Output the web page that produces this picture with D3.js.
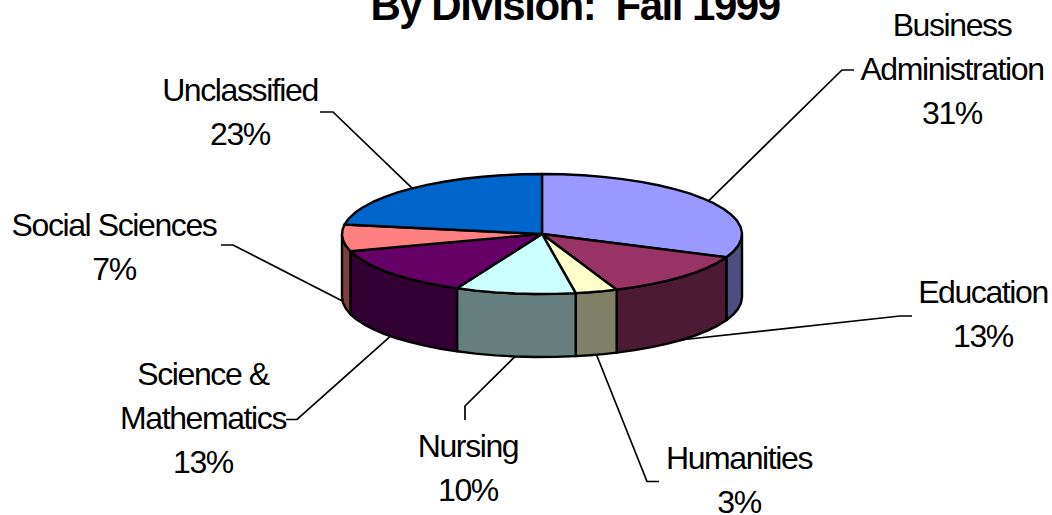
<!DOCTYPE html>
<html>
<head>
<meta charset="utf-8">
<script src="https://cdn.jsdelivr.net/npm/d3@7"></script>
<style>
  html, body { margin: 0; padding: 0; background: #fff; overflow: hidden; }
  text { font-family: "Liberation Sans", Arial, sans-serif; fill: #000; white-space: pre; }
</style>
</head>
<body>
<div id="chart"></div>
<script>
let w = 1052,
    h = 515;

// data
let divisions = ["Business Administration", "Education", "Humanities", "Nursing", "Science & Mathematics", "Social Sciences", "Unclassified"];
let shares = [31.4, 12.6, 3.4, 9.7, 13.4, 7.2, 22.5];
let topColors = ["#9999ff", "#993366", "#ffffcc", "#ccffff", "#660066", "#ff8080", "#0066cc"];
let wallColors = ["#4d4d80", "#4d1a33", "#808066", "#668080", "#330033", "#804040", "#003366"];
let titleText = "By Division:  Fall 1999";

// label placement: name lines, centre x, first baseline, leader elbow and end
let labelLayout = [
  { lines: ["Business", "Administration"], x: 952, y: 36, elbow: [842, 70], end: [854, 70] },
  { lines: ["Education"], x: 983, y: 303, elbow: [900, 316], end: [912, 316] },
  { lines: ["Humanities"], x: 739, y: 469, elbow: [647, 481.5], end: [659, 481.5] },
  { lines: ["Nursing"], x: 468, y: 457, elbow: [465, 406], end: [465, 420] },
  { lines: ["Science &", "Mathematics"], x: 203, y: 385, elbow: [297, 419.5], end: [286, 419.5] },
  { lines: ["Social Sciences"], x: 114, y: 236, elbow: [233, 245], end: [221, 245] },
  { lines: ["Unclassified"], x: 240, y: 101, elbow: [333, 112], end: [320, 112] }
];

let pieX = 542,
    pieY = 234,
    rx = 200,
    ry = 60,
    depth = 63,
    lineGap = 44;

let svg = d3.select("#chart")
            .append("svg")
            .attr("width", w)
            .attr("height", h)
            .style("display", "block");

let slices = d3.pie().sort(null).startAngle(0).endAngle(2 * Math.PI)(shares);

// point on the tilted rim, angle clockwise from the top
let rim = (a, drop = 0) => [pieX + rx * Math.sin(a), pieY - ry * Math.cos(a) + drop];

let line = d3.line();

// coarse steps on purpose, the rim in the original is faceted
let arcPoints = (a0, a1, drop = 0) => {
  let n = Math.max(1, Math.ceil(Math.abs(a1 - a0) / (6 * Math.PI / 180)));
  return d3.range(0, n + 1).map(i => rim(a0 + (a1 - a0) * i / n, drop));
};

// leaders go first, the pie covers their inner ends
svg.selectAll(".leader")
    .data(slices)
    .enter()
    .append("path")
    .attr("class", "leader")
    .attr("d", (d, i) => {
      let mid = (d.startAngle + d.endAngle) / 2;
      let front = Math.cos(mid) < 0;
      return line([rim(mid, front ? depth : 0), labelLayout[i].elbow, labelLayout[i].end]);
    })
    .attr("fill", "none")
    .attr("stroke", "#000")
    .attr("stroke-width", 1.7);

// walls, only the front half of the rim shows
svg.selectAll(".wall")
    .data(slices.filter(d => d.endAngle > Math.PI / 2 && d.startAngle < 3 * Math.PI / 2))
    .enter()
    .append("path")
    .attr("class", "wall")
    .attr("d", d => {
      let a0 = Math.max(d.startAngle, Math.PI / 2);
      let a1 = Math.min(d.endAngle, 3 * Math.PI / 2);
      return line(arcPoints(a0, a1).concat(arcPoints(a1, a0, depth))) + "Z";
    })
    .attr("fill", d => wallColors[d.index])
    .attr("stroke", "#000")
    .attr("stroke-width", 2.4)
    .attr("stroke-linejoin", "round");

svg.selectAll(".slice")
    .data(slices)
    .enter()
    .append("path")
    .attr("class", "slice")
    .attr("d", d => line([[pieX, pieY]].concat(arcPoints(d.startAngle, d.endAngle))) + "Z")
    .attr("fill", d => topColors[d.index])
    .attr("stroke", "#000")
    .attr("stroke-width", 2.4)
    .attr("stroke-linejoin", "round");

let labels = svg.selectAll(".label")
    .data(labelLayout)
    .enter()
    .append("text")
    .attr("class", "label")
    .attr("text-anchor", "middle")
    .style("font-size", "32px")
    .style("letter-spacing", "-1.4px");

labels.each(function(d, i) {
  let rows = d.lines.concat([Math.round(shares[i]) + "%"]);
  d3.select(this).selectAll("tspan")
    .data(rows)
    .enter()
    .append("tspan")
    .attr("x", d.x)
    .attr("y", (r, j) => d.y + j * lineGap)
    .text(r => r);
});

svg.append("text")
    .attr("x", 575)
    .attr("y", 20)
    .attr("text-anchor", "middle")
    .style("font-size", "42px")
    .style("font-weight", "bold")
    .style("letter-spacing", "-1.5px")
    .text(titleText);
</script>
</body>
</html>
